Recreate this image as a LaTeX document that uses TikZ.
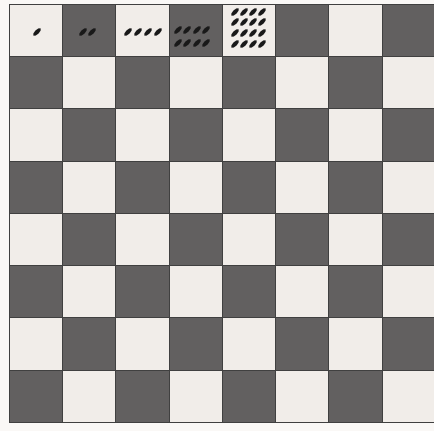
\documentclass[tikz,border=0pt]{standalone}
\usepackage{tikz}
\definecolor{paper}{RGB}{250,248,246}
\definecolor{lightsq}{RGB}{241,237,233}
\definecolor{darksq}{RGB}{98,96,96}

\begin{document}
\begin{tikzpicture}[x=1pt, y=-1pt,
  lightbox/.style={draw=black!75, fill=lightsq, line width=0.7pt},
  darkbox/.style={draw=black!75, fill=darksq, line width=0.7pt},
  grain/.style={fill=black!90, rotate=45}]

  \useasboundingbox[fill=paper] (0,0) rectangle (434,431);

  % the 8x8 board
  \foreach \r in {0,...,7}
    \foreach \c in {0,...,7} {
      \pgfmathtruncatemacro\odd{mod(\r+\c,2)}
      \ifnum\odd=0
        \path[lightbox] ({9+53.3*\c},{4+52.3*\r}) rectangle ++(53.3,52.3);
      \else
        \path[darkbox] ({9+53.3*\c},{4+52.3*\r}) rectangle ++(53.3,52.3);
      \fi
    }

  % grains: 1, 2, 4, 8, 16
  \fill[shift={(37,32)}, grain] (0,0) ellipse [x radius=5.2, y radius=2.1];
  \foreach \x in {83,92}
    \fill[shift={(\x,32)}, grain] (0,0) ellipse [x radius=5.2, y radius=2.1];
  \foreach \x in {128,138,148,158}
    \fill[shift={(\x,32)}, grain] (0,0) ellipse [x radius=5.2, y radius=2.1];
  \foreach \y in {30,43}
    \foreach \x in {178,187,197,206}
      \fill[shift={(\x,\y)}, grain] (0,0) ellipse [x radius=5.2, y radius=2.1];
  \foreach \y in {12,22,33,44}
    \foreach \x in {235,244,253,262}
      \fill[shift={(\x,\y)}, grain] (0,0) ellipse [x radius=5.2, y radius=2.1];
\end{tikzpicture}
\end{document}
